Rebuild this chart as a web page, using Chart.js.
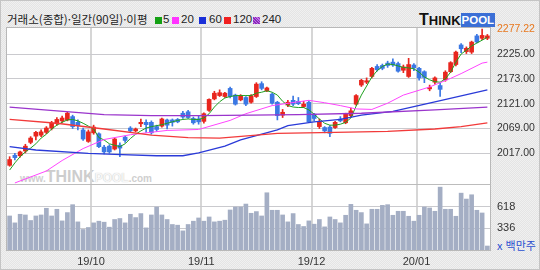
<!DOCTYPE html>
<html lang="ko">
<head>
<meta charset="utf-8">
<title>거래소(종합) 일간 차트</title>
<script src="https://cdn.jsdelivr.net/npm/chart.js@4.4.1/dist/chart.umd.min.js"></script>
<style>
	html, body { margin: 0; padding: 0; background: #fff; }
	#wrap {
		position: relative; width: 540px; height: 270px; overflow: hidden;
		background: #ebebeb repeating-conic-gradient(#e4e4e4 0 25%, #f0f0f0 0 50%) 0 0 / 2px 2px;
		box-shadow: inset 0 0 0 1px #c4c4c4;
		font-family: "Liberation Sans", Arial, sans-serif; color: #333;
	}
	#plotBg { position: absolute; left: 6px; top: 27px; width: 485px; height: 224px; background: #fff; border: 1px solid #b8b8b8; box-sizing: border-box; }
	#sep { position: absolute; left: 6px; top: 184px; width: 485px; height: 1px; background: #bcbcbc; }
	canvas { position: absolute; left: 0; top: 0; }
	.t { position: absolute; top: 12px; font-size: 11.5px; line-height: 14px; white-space: nowrap; color: #222; }
	.sq { position: absolute; top: 17px; width: 7px; height: 7px; }
	#title { left: 7px; font-family: "Noto Sans CJK KR", sans-serif; }
	#logo { position: absolute; left: 419px; top: 12px; height: 15px; white-space: nowrap; font-weight: bold; line-height: 15px; }
	#logo .a { font-size: 16px; color: #111; }
	#logo .b { font-size: 13px; color: #111; }
	#logo .c { display: inline-block; background: #3b6fd6; color: #fff; font-size: 11.5px; padding: 0 1px; line-height: 14px; vertical-align: top; margin-top: 1px; }
	#wm { position: absolute; left: 20px; top: 169px; white-space: nowrap; font-weight: bold; line-height: 16px; }
	#wm .w { font-size: 10px; color: #cfcfcf; }
	#wm .k { font-size: 16px; color: #cdcdcd; }
	#wm .p { font-size: 12px; color: #f6f6f6; text-shadow: 0 0 1px #bbb; }
	#unit { position: absolute; left: 497px; top: 238px; font-size: 11px; line-height: 14px; color: #2b4fd0; font-family: "Noto Sans CJK KR", sans-serif; white-space: nowrap; }
</style>
</head>
<body>
<div id="wrap">
	<div id="plotBg"></div>
	<div id="wm"><span class="w">www.</span><span class="k">THINK</span><span class="p">POOL</span><span class="w">.com</span></div>
	<div id="sep"></div>

	<div class="t" id="title">거래소(종합)·일간(90일)·이평</div>
	<div class="sq" style="left:155px;background:#14a014"></div><div class="t" style="left:163px">5</div>
	<div class="sq" style="left:172px;background:#ff33ff"></div><div class="t" style="left:181px">20</div>
	<div class="sq" style="left:199px;background:#1a2fd8"></div><div class="t" style="left:209px">60</div>
	<div class="sq" style="left:224px;background:#f02020"></div><div class="t" style="left:233px">120</div>
	<div class="sq" style="left:253px;background:repeating-linear-gradient(45deg,#8a2bb8 0 1px,#c070e8 1px 2px)"></div><div class="t" style="left:262px">240</div>

	<div id="logo"><span class="a">T</span><span class="b">HINK</span><span class="c">POOL</span></div>
	<div id="unit">x 백만주</div>

	<canvas id="priceChart" width="540" height="270"></canvas>
	<canvas id="volumeChart" width="540" height="270"></canvas>
</div>

<script>
// daily candles, 2019-09 .. 2020-01
var open  = [1992,2013,2012,2022,2040,2053,2055,2061,2070,2079, 2085,2087,2094,2082,2066,2042,2060,2058,2030,2032,
             2026,2034,2051,2070,2064,2079,2082,2082,2073,2074, 2087,2087,2088,2101,2104,2090,2089,2084,2107,2131,
             2138,2136,2153,2139,2129,2134,2124,2136,2163,2148, 2141,2124,2097,2118,2128,2126,2115,2124,2099,2073,
             2071,2072,2071,2089,2081,2096,2120,2160,2166,2178, 2199,2201,2206,2208,2205,2191,2178,2202,2195,2188,
             2152,2166,2159,2171,2188,2203,2244,2230,2229,2263, 2258,2258];
var high  = [2010,2017,2022,2036,2052,2063,2066,2073,2084,2092, 2095,2103,2097,2087,2070,2066,2076,2060,2034,2035,
             2049,2039,2053,2073,2070,2089,2087,2085,2076,2091, 2089,2089,2090,2105,2107,2093,2095,2102,2131,2147,
             2150,2145,2156,2141,2140,2136,2140,2165,2167,2156, 2143,2126,2109,2128,2137,2134,2126,2127,2101,2089,
             2073,2075,2084,2094,2101,2112,2140,2172,2175,2197, 2203,2204,2210,2215,2208,2202,2216,2205,2197,2190,
             2160,2177,2164,2190,2209,2231,2247,2240,2252,2266, 2277.22,2266];
var low   = [1990,2003,2009,2018,2037,2045,2052,2058,2066,2076, 2082,2085,2069,2066,2044,2040,2057,2029,2016,2017,
             2024,2010,2040,2062,2062,2073,2061,2057,2063,2072, 2068,2074,2081,2090,2090,2078,2078,2080,2105,2129,
             2136,2134,2133,2118,2127,2117,2122,2134,2150,2146, 2120,2087,2092,2115,2117,2119,2113,2081,2085,2069,
             2060,2052,2069,2083,2079,2094,2118,2157,2163,2175, 2189,2192,2197,2199,2187,2186,2176,2190,2170,2165,
             2148,2162,2136,2168,2186,2200,2228,2226,2226,2248, 2255,2255];
var close = [2004,2008,2020,2032,2049,2061,2062,2070,2080,2088, 2091,2101,2073,2075,2047,2062,2072,2031,2020,2020,
             2047,2028,2044,2064,2068,2082,2077,2060,2067,2089, 2076,2082,2083,2093,2092,2081,2083,2100,2130,2143,
             2144,2143,2136,2120,2138,2120,2138,2162,2153,2154, 2122,2096,2103,2124,2120,2121,2120,2083,2090,2084,
             2064,2059,2082,2085,2099,2106,2138,2170,2169,2195, 2192,2195,2201,2202,2189,2198,2203,2196,2175,2176,
             2155,2175,2151,2187,2207,2229,2236,2237,2250,2250, 2264,2263];

// volume, millions of shares
var volume = [497,407,519,510,438,497,510,597,497,584, 433,541,644,420,321,347,407,429,416,351,
              451,464,407,519,476,528,342,510,613,510, 451,386,377,303,386,429,471,429,484,420,
              429,442,575,613,613,652,532,554,497,799, 571,571,510,420,528,386,360,433,390,451,
              355,484,451,407,506,648,571,541,394,584, 584,635,644,506,558,558,493,429,506,613,
              601,558,872,584,584,493,794,717,773,571, 536,106];

// moving averages (null = not read at that day, line spans the gap)
var ma5 = [1982,1997,2010,2020,2028,2037,2049,2057,2068,2076, 2082,2087,2088,2085,2080,2074,2068,2050,2045,2037,
           2034,2031,2037,2048,2057,2064,2070,2073,2075,2077, 2080,2083,2086,2088,2089,2088,2088,2091,2100,2114,
           2125,2133,2136,2138,2138,2138,2138,2143,2145,2148, 2145,2139,2126,2117,2114,2113,2113,2108,2099,2089,
           2080,2076,2076,2078,2082,2091,2116,2139,2158,2177, 2190,2199,2204,2203,2200,2197,2196,2194,2187,2177,
           2171,2167,2166,2173,2187,2208,2225,2233,2242,2248, 2254,2260];
var ma20 = [null,1955,null,null,null,null,null,1980,null,null, 2002,null,null,null,2027,null,null,null,2046,null,
            null,null,null,2056,null,null,null,null,null,null, 2065,null,null,null,null,null,2067,null,null,null,
            null,null,2086,null,null,2100,null,null,null,null, 2117,null,null,null,null,2125,null,2128,null,null,
            2123,null,null,2117,null,null,2110,null,null,2109, null,null,2122,null,null,2139,null,null,null,null,
            2156,null,null,null,2174,null,2184,null,null,null, 2206,2208];
var ma60 = [2031,null,null,null,null,2024,null,null,null,null, null,null,null,null,null,2017,null,null,null,null,
            2015,null,null,null,null,null,null,null,2012,null, null,null,null,2012,null,null,2018,null,null,null,
            null,2032,null,null,2045,null,null,null,null,null, null,2066,null,2075,null,null,null,null,2083,null,
            null,null,null,2088,null,null,null,2097,null,null, null,null,null,2105,null,null,null,null,null,null,
            null,2125,null,null,null,null,null,null,null,null, null,2150];
var ma120 = [2088,null,null,null,null,null,null,null,null,2080, null,null,null,null,null,null,null,null,2068,null,
             null,null,null,null,null,null,null,2055,null,null, null,null,null,null,2050,null,null,null,null,null,
             2049,null,null,null,null,null,null,2055,null,null, null,2059,null,null,null,null,null,null,null,null,
             null,null,2061,null,null,null,null,null,null,null, null,null,2063,null,null,null,null,null,null,null,
             null,2068,null,null,null,null,2073,null,null,null, null,2081];
var ma240 = [2114,null,null,null,null,null,null,null,null,2106, null,null,null,null,null,null,null,null,2098,null,
             null,null,null,null,null,null,null,2096,null,null, null,null,null,null,null,null,2096,null,null,null,
             null,null,null,null,null,null,2097,null,null,null, null,null,null,null,null,2098,null,null,null,null,
             null,null,null,null,null,null,null,2101,null,null, null,null,null,null,null,null,null,null,null,null,
             null,2108,null,null,null,null,null,null,null,null, null,2114];

var priceTicks = [2017, 2069, 2121, 2173, 2225, 2277.22];
var volumeTicks = [336, 618];
var monthStarts = [15.5, 36.5, 57.5, 77.5];
var monthLabels = ['19/10', '19/11', '19/12', '20/01'];

var UP = '#e8261e', DOWN = '#3b78e4';
var days = open.map(function(v, i) { return i; });
var colors = open.map(function(o, i) { return close[i] >= o ? UP : DOWN; });
var bodies = open.map(function(o, i) { return [o, close[i]]; });
var wicks = low.map(function(l, i) { return [l, high[i]]; });

Chart.defaults.font.family = '"Liberation Sans", Arial, sans-serif';

function monthAxis(showLabels, height) {
	return {
		type: 'linear', min: -0.5, max: 91.5, offset: false,
		afterBuildTicks: function(s) { s.ticks = monthStarts.map(function(v) { return { value: v }; }); },
		ticks: {
			display: showLabels, autoSkip: false, maxRotation: 0, padding: 5,
			color: '#333', font: { size: 11 },
			callback: function(v, i) { return monthLabels[i]; }
		},
		grid: { offset: false, color: '#d6d6d6', lineWidth: 2, drawTicks: false },
		border: { display: false },
		afterFit: function(s) { s.height = height; }
	};
}

function maLine(data, color, width) {
	return { type: 'line', data: data, borderColor: color, borderWidth: width, pointRadius: 0, spanGaps: true, order: 0 };
}

// Price panel
new Chart(document.getElementById('priceChart'), {
	type: 'bar',
	data: {
		labels: days,
		datasets: [
			maLine(ma240, '#9a35cc', 1.3),
			maLine(ma120, '#f23a3a', 1.3),
			maLine(ma60, '#2a3ad8', 1.3),
			maLine(ma20, '#ff44ff', 1),
			maLine(ma5, '#1ea01e', 1),
			{ data: bodies, backgroundColor: colors, barThickness: 4, grouped: false, minBarLength: 1, order: 1 },
			{ data: wicks, backgroundColor: colors, barThickness: 1, grouped: false, order: 2 }
		]
	},
	options: {
		responsive: false, animation: false, devicePixelRatio: 1,
		layout: { padding: { left: 7, top: 28, right: 0, bottom: 86 } },
		plugins: { legend: { display: false }, tooltip: { enabled: false } },
		scales: {
			x: monthAxis(false, 0),
			y: {
				position: 'right', min: 1952.8, max: 2279.5,
				afterBuildTicks: function(s) { s.ticks = priceTicks.map(function(v) { return { value: v }; }); },
				ticks: {
					autoSkip: false, padding: 7, font: { size: 10.5 },
					color: function(c) { return c.tick && c.tick.value === 2277.22 ? '#e8781e' : '#333'; },
					callback: function(v) { return Number(v).toFixed(2); }
				},
				grid: {
					drawTicks: false,
					color: function(c) { return c.tick && c.tick.value === 2277.22 ? 'rgba(0,0,0,0)' : '#cacace'; }
				},
				border: { display: false },
				afterFit: function(s) { s.width = 50; }
			}
		}
	}
});

// Volume panel
new Chart(document.getElementById('volumeChart'), {
	type: 'bar',
	data: {
		labels: days,
		datasets: [{ data: volume, backgroundColor: '#a4aec4', barThickness: 4 }]
	},
	options: {
		responsive: false, animation: false, devicePixelRatio: 1,
		layout: { padding: { left: 7, top: 185, right: 0, bottom: 0 } },
		plugins: { legend: { display: false }, tooltip: { enabled: false } },
		scales: {
			x: monthAxis(true, 20),
			y: {
				position: 'right', min: 54, max: 900,
				afterBuildTicks: function(s) { s.ticks = volumeTicks.map(function(v) { return { value: v }; }); },
				ticks: { autoSkip: false, padding: 7, color: '#333', font: { size: 11 } },
				grid: { drawTicks: false, color: '#cacace' },
				border: { display: false },
				afterFit: function(s) { s.width = 50; }
			}
		}
	}
});
</script>
</body>
</html>
